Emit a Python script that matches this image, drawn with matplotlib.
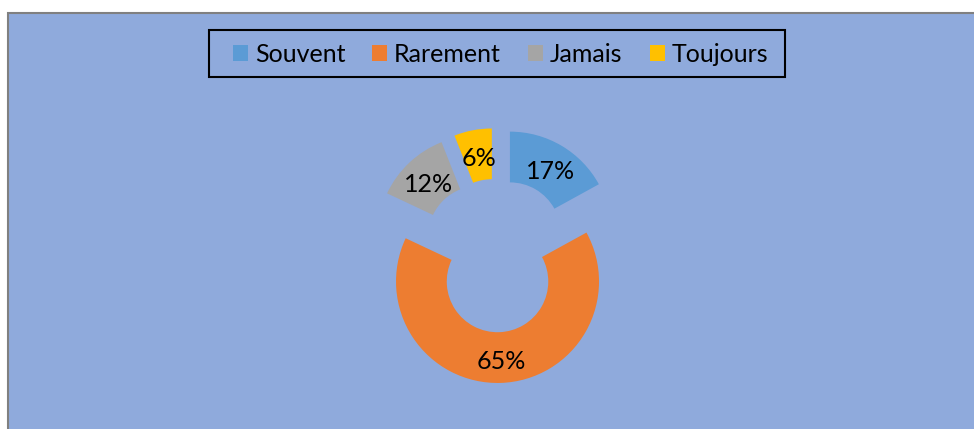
import numpy as np
import matplotlib.pyplot as plt
from matplotlib.patches import Rectangle

labels = ['Souvent', 'Rarement', 'Jamais', 'Toujours']
values = [17, 65, 12, 6]
colors = ['#5B9BD5', '#ED7D31', '#A5A5A5', '#FFC000']

plt.rcParams['font.family'] = ['Lato', 'DejaVu Sans']

W, H = 974, 429
fig = plt.figure(figsize=(W / 100, H / 100), dpi=100)
fig.patch.set_facecolor('white')

# blue chart area with a grey border (white margin top/left)
fig.patches.append(Rectangle((7.5 / W, -0.05), 1.0, (H - 13.5) / H + 0.05,
                             transform=fig.transFigure, facecolor='#8FAADC',
                             edgecolor='#808080', linewidth=1.5, zorder=-2))

ax = fig.add_axes([0, 0, 1, 1])
ax.set_facecolor('none')

R = 101.5           # px per unit radius
cx, cy = 496.7, H - 255.5
fs = 18
wedges, texts, autotexts = ax.pie(values, colors=colors, startangle=90, counterclock=False,
                                  explode=[0.256] * 4, radius=1, autopct='%1.0f%%',
                                  pctdistance=0.75, wedgeprops=dict(width=0.5, linewidth=0),
                                  textprops=dict(fontsize=fs, color='black'))
# labels sit a little lower in the original
for t in autotexts:
    x, y = t.get_position()
    t.set_position((x + 1.5 / R, y - 3.5 / R))
ax.set_xlim(-cx / R, (W - cx) / R)
ax.set_ylim(-cy / R, (H - cy) / R)
ax.set_aspect('auto')
ax.axis('off')

# legend box
fig.patches.append(Rectangle((208.7 / W, 1 - 77.3 / H), (785.3 - 208.7) / W, (77.3 - 30) / H,
                             transform=fig.transFigure, fill=False, edgecolor='black',
                             linewidth=1.5, zorder=3))
fig.legend(wedges, labels, loc='center', bbox_to_anchor=(500.5 / W, 1 - 54.5 / H), ncol=4,
           frameon=False, fontsize=fs, handlelength=0.6, handleheight=0.6,
           handletextpad=0.28, columnspacing=1.08)

plt.savefig('out.png', dpi=100)
